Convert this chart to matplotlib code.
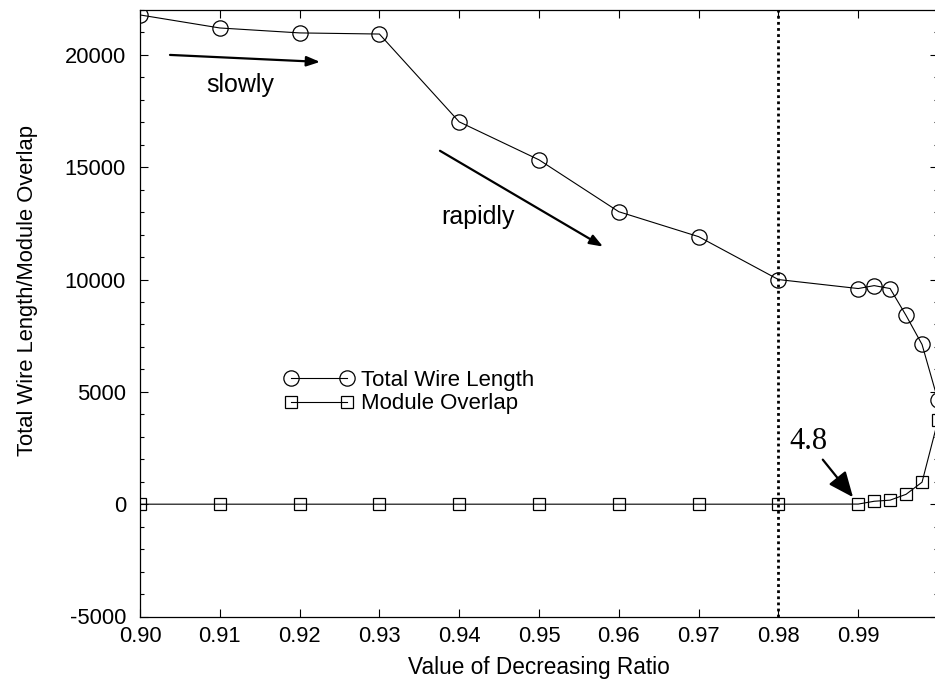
"""
Total wire length and module overlap against the decreasing ratio.
"""

import numpy as np
from matplotlib import pyplot as plt
from matplotlib.ticker import MultipleLocator, FormatStrFormatter

# data
ratio = [0.90, 0.91, 0.92, 0.93, 0.94, 0.95, 0.96, 0.97, 0.98,
         0.99, 0.992, 0.994, 0.996, 0.998, 1.0]
wire_length = [21780, 21200, 20980, 20930, 17020, 15330, 13020, 11910, 10000,
               9600, 9730, 9600, 8400, 7110, 4620]
overlap = [0, 0, 0, 0, 0, 0, 0, 0, 0,
           4.8, 130, 180, 440, 980, 3730]

x_ticks = [0.90, 0.91, 0.92, 0.93, 0.94, 0.95, 0.96, 0.97, 0.98, 0.99]
y_ticks = [-5000, 0, 5000, 10000, 15000, 20000]


def main():
    plt.rcParams['font.family'] = ['Liberation Sans', 'DejaVu Sans']
    plt.rcParams['axes.unicode_minus'] = False

    fig = plt.figure(figsize=(9.35, 6.79), dpi=100)
    ax = fig.add_axes([140 / 935, 62.5 / 679, 798 / 935, 606.5 / 679])

    ax.plot(ratio, wire_length, color='black', lw=0.8, marker='o', ms=11,
            mfc='none', mec='black', mew=0.9, label='Total Wire Length')
    ax.plot(ratio, overlap, color='black', lw=0.8, marker='s', ms=9,
            mfc='none', mec='black', mew=0.9, label='Module Overlap')

    ax.axvline(0.98, color='black', ls=(0, (1, 1.2)), lw=2)

    ax.set_xlim(0.90, 1.0)
    ax.set_ylim(-5000, 22000)
    ax.set_xticks(x_ticks)
    ax.set_yticks(y_ticks)
    ax.xaxis.set_major_formatter(FormatStrFormatter('%.2f'))
    ax.yaxis.set_minor_locator(MultipleLocator(1000))
    ax.tick_params(which='both', direction='in', top=True, right=True,
                   labelsize=15.8, width=0.8)
    ax.tick_params(which='major', length=6)
    ax.tick_params(which='minor', length=3)
    ax.tick_params(axis='y', pad=10)
    ax.tick_params(axis='x', pad=7)
    for s in ax.spines.values():
        s.set_linewidth(0.9)

    ax.set_xlabel('Value of Decreasing Ratio', fontsize=16.3, labelpad=6)
    ax.set_ylabel('Total Wire Length/Module Overlap', fontsize=15.8)
    ax.yaxis.set_label_coords(-0.128, 0.538)

    arrow = dict(arrowstyle='-|>,head_length=0.8,head_width=0.3', color='black',
                 lw=1.6, shrinkA=0, shrinkB=0)
    ax.annotate('', xy=(0.92256, 19689), xytext=(0.90376, 20000), arrowprops=arrow)
    ax.text(0.91253, 18667, 'slowly', fontsize=18, ha='center', va='center')
    ax.annotate('', xy=(0.95802, 11467), xytext=(0.93759, 15733), arrowprops=arrow)
    ax.text(0.94236, 12800, 'rapidly', fontsize=18, ha='center', va='center')

    ax.annotate('4.8', xy=(0.98935, 311), xytext=(0.98371, 2800),
                fontsize=22, family=['Liberation Serif', 'DejaVu Serif'],
                ha='center', va='center',
                arrowprops=dict(arrowstyle='-|>,head_length=0.7,head_width=0.3',
                                color='black', lw=1.6, shrinkA=1, shrinkB=0))

    ax.legend(loc='center left', bbox_to_anchor=(0.1697, 0.370), frameon=False,
              numpoints=2, handlelength=3.1, handletextpad=0.35,
              labelspacing=0.12, fontsize=16, borderaxespad=0)

    fig.savefig('out.png', dpi=100)


if __name__ == '__main__':
    main()
